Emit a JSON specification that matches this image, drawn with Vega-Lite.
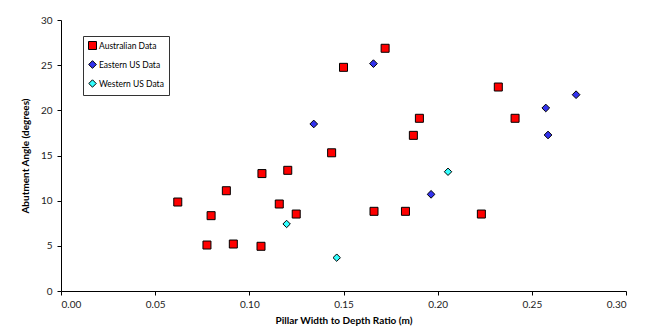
{
  "$schema": "https://vega.github.io/schema/vega-lite/v6.json",
  "autosize": "none",
  "width": 565,
  "height": 271,
  "padding": {"left": 61, "top": 20, "right": 24, "bottom": 42},
  "background": "white",
  "config": {
    "view": {"stroke": null},
    "font": "Lato",
    "axis": {
      "grid": false,
      "domainColor": "black",
      "domainWidth": 1,
      "tickColor": "black",
      "tickSize": 4,
      "labelFont": "Lato",
      "labelFontSize": 10,
      "labelColor": "#222",
      "titleFont": "Lato",
      "titleFontSize": 10,
      "titleFontWeight": "bold",
      "titleColor": "black"
    }
  },
  "data": {
    "values": [
      {"ratio": 0.062, "angle": 9.85, "series": "Australian Data"},
      {"ratio": 0.0797, "angle": 8.34, "series": "Australian Data"},
      {"ratio": 0.0775, "angle": 5.09, "series": "Australian Data"},
      {"ratio": 0.0878, "angle": 11.1, "series": "Australian Data"},
      {"ratio": 0.0915, "angle": 5.2, "series": "Australian Data"},
      {"ratio": 0.1062, "angle": 4.95, "series": "Australian Data"},
      {"ratio": 0.1067, "angle": 13.0, "series": "Australian Data"},
      {"ratio": 0.1159, "angle": 9.63, "series": "Australian Data"},
      {"ratio": 0.1204, "angle": 13.36, "series": "Australian Data"},
      {"ratio": 0.1249, "angle": 8.52, "series": "Australian Data"},
      {"ratio": 0.1437, "angle": 15.3, "series": "Australian Data"},
      {"ratio": 0.150, "angle": 24.76, "series": "Australian Data"},
      {"ratio": 0.1721, "angle": 26.87, "series": "Australian Data"},
      {"ratio": 0.1662, "angle": 8.82, "series": "Australian Data"},
      {"ratio": 0.1829, "angle": 8.82, "series": "Australian Data"},
      {"ratio": 0.1871, "angle": 17.23, "series": "Australian Data"},
      {"ratio": 0.1903, "angle": 19.12, "series": "Australian Data"},
      {"ratio": 0.2232, "angle": 8.52, "series": "Australian Data"},
      {"ratio": 0.2322, "angle": 22.58, "series": "Australian Data"},
      {"ratio": 0.2411, "angle": 19.12, "series": "Australian Data"},
      {"ratio": 0.1342, "angle": 18.49, "series": "Eastern US Data"},
      {"ratio": 0.1659, "angle": 25.17, "series": "Eastern US Data"},
      {"ratio": 0.1965, "angle": 10.7, "series": "Eastern US Data"},
      {"ratio": 0.2574, "angle": 20.26, "series": "Eastern US Data"},
      {"ratio": 0.2586, "angle": 17.27, "series": "Eastern US Data"},
      {"ratio": 0.2735, "angle": 21.73, "series": "Eastern US Data"},
      {"ratio": 0.1198, "angle": 7.42, "series": "Western US Data"},
      {"ratio": 0.1464, "angle": 3.69, "series": "Western US Data"},
      {"ratio": 0.2055, "angle": 13.2, "series": "Western US Data"}
    ]
  },
  "mark": {"type": "point", "filled": true, "stroke": "black", "strokeWidth": 1, "opacity": 1},
  "encoding": {
    "x": {
      "field": "ratio", "type": "quantitative",
      "scale": {"domain": [0, 0.3], "nice": false, "zero": true},
      "axis": {"values": [0, 0.05, 0.1, 0.15, 0.2, 0.25, 0.3], "format": ".2f", "title": "Pillar Width to Depth Ratio (m)", "labelPadding": 4, "titlePadding": 6}
    },
    "y": {
      "field": "angle", "type": "quantitative",
      "scale": {"domain": [0, 30], "nice": false},
      "axis": {"values": [0, 5, 10, 15, 20, 25, 30], "title": "Abutment Angle (degrees)", "labelPadding": 5, "titlePadding": 10}
    },
    "color": {
      "field": "series", "type": "nominal",
      "scale": {"domain": ["Australian Data", "Eastern US Data", "Western US Data"], "range": ["#FF0000", "#3333EE", "#33FFFF"]},
      "legend": {
        "title": null,
        "orient": "none",
        "legendX": 22,
        "legendY": 16,
        "direction": "vertical",
        "strokeColor": "#333",
        "fillColor": "white",
        "padding": 5,
        "rowPadding": 6,
        "labelFont": "Lato",
        "labelFontSize": 8.5,
        "labelColor": "black",
        "symbolSize": 30,
        "symbolStrokeColor": "black",
        "symbolStrokeWidth": 1,
        "labelOffset": 2
      }
    },
    "shape": {
      "field": "series", "type": "nominal",
      "scale": {"domain": ["Australian Data", "Eastern US Data", "Western US Data"], "range": ["square", "diamond", "diamond"]},
      "legend": null
    },
    "size": {
      "field": "series", "type": "nominal",
      "scale": {"domain": ["Australian Data", "Eastern US Data", "Western US Data"], "range": [64, 55, 55]},
      "legend": null
    }
  }
}
